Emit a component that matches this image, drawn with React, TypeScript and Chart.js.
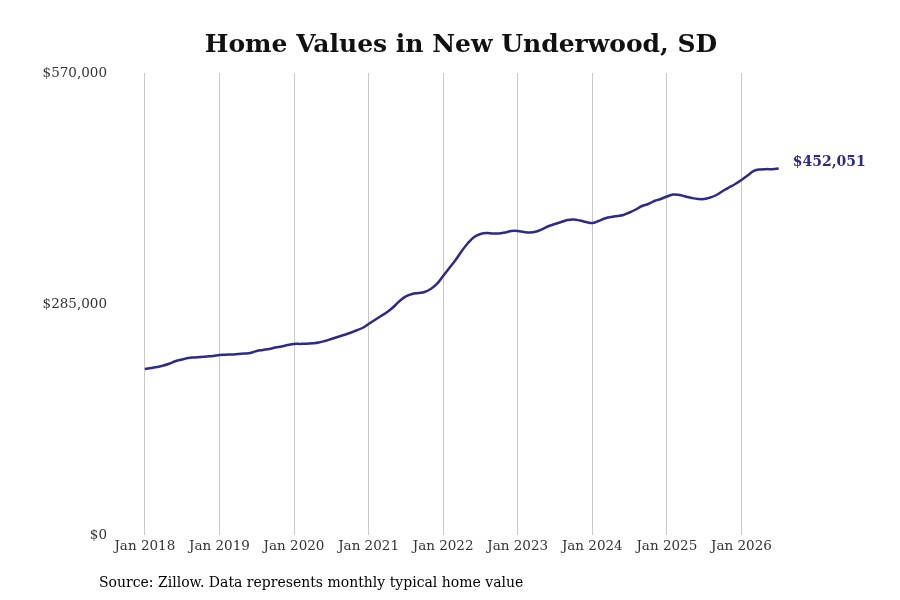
import React, { useEffect, useRef } from 'react';
import { Chart, registerables } from 'chart.js';

Chart.register(...registerables);

// monthly typical home value, Jan 2018 .. Jul 2026
const homeValues = [
  204800, 206000, 207300, 209100, 211600, 214700, 216500, 218400, 219000, 219600, 220200, 220900,
  222100, 222500, 222700, 223300, 223900, 224600, 227000, 228300, 229500, 231300, 232600, 234400,
  235700, 235800, 235900, 236500, 237500, 239400, 241800, 244300, 246800, 249200, 252300, 255400,
  260300, 265300, 270200, 275100, 281300, 288700, 294300, 297300, 298600, 299800, 303500, 309700,
  319600, 329400, 339300, 350400, 360300, 367700, 371400, 372600, 372000, 372100, 373200, 375100,
  375100, 373800, 373200, 374500, 377500, 381200, 383700, 386200, 388600, 389300, 388000, 386200,
  384900, 387400, 390500, 392300, 393600, 394800, 397900, 401600, 405900, 408400, 412100, 414600,
  417600, 420100, 419500, 417600, 415800, 414600, 414500, 416400, 419500, 424400, 428700, 433100,
  438000, 443600, 449100, 451000, 451400, 451300, 452051,
];

const yearLabels = [
  'Jan 2018', 'Jan 2019', 'Jan 2020', 'Jan 2021', 'Jan 2022',
  'Jan 2023', 'Jan 2024', 'Jan 2025', 'Jan 2026',
];

const yTicks = [0, 285000, 570000];

const title = 'Home Values in New Underwood, SD';
const source = 'Source: Zillow. Data represents monthly typical home value';

const lineColor = '#2e2a87';
const fontFamily = '"DejaVu Serif", serif';

const money = (v: number) => '$' + Math.round(v).toLocaleString('en-US');

const textPlugin = {
  id: 'pageText',
  afterDraw(chart: Chart) {
    const ctx = chart.ctx;
    ctx.save();
    ctx.fillStyle = '#111';
    ctx.font = `bold 25px ${fontFamily}`;
    ctx.textAlign = 'center';
    ctx.textBaseline = 'middle';
    ctx.fillText(title, 461, 45);

    ctx.fillStyle = '#000';
    ctx.font = `14px ${fontFamily}`;
    ctx.textAlign = 'left';
    ctx.fillText(source, 99, 583);

    // label on last point
    const meta = chart.getDatasetMeta(0);
    const last = meta.data[meta.data.length - 1];
    if (last) {
      ctx.fillStyle = lineColor;
      ctx.font = `bold 14px ${fontFamily}`;
      ctx.fillText(money(homeValues[homeValues.length - 1]), last.x + 14, last.y - 6);
    }
    ctx.restore();
  },
};

export default function App() {
  const chartRef = useRef<HTMLCanvasElement>(null);
  const chartInstance = useRef<Chart | null>(null);

  useEffect(() => {
    if (!chartRef.current) return;
    if (chartInstance.current) chartInstance.current.destroy();

    const ctx = chartRef.current.getContext('2d');
    if (!ctx) return;

    chartInstance.current = new Chart(ctx, {
      type: 'line',
      data: {
        datasets: [
          {
            label: 'Home value',
            data: homeValues.map((v, i) => ({ x: i, y: v })),
            borderColor: lineColor,
            borderWidth: 2.5,
            pointRadius: 0,
            tension: 0.4,
            fill: false,
          },
        ],
      },
      options: {
        animation: false,
        responsive: false,
        maintainAspectRatio: false,
        layout: { padding: { left: 0, right: 84, top: 73, bottom: 0 } },
        plugins: {
          legend: { display: false },
          tooltip: { enabled: false },
          title: { display: false },
        },
        scales: {
          x: {
            type: 'linear',
            min: -4,
            max: 108,
            afterBuildTicks: (scale: any) => {
              scale.ticks = yearLabels.map((_, i) => ({ value: i * 12 }));
            },
            afterFit: (scale: any) => {
              scale.height = 65;
            },
            ticks: {
              autoSkip: false,
              maxRotation: 0,
              padding: 3,
              color: '#333',
              font: { family: fontFamily, size: 13.5 },
              callback: (value: any) => yearLabels[Math.round(Number(value) / 12)] ?? '',
            },
            grid: {
              display: true,
              color: '#c8c8c8',
              lineWidth: 1,
              drawTicks: false,
            },
            border: { display: false },
          },
          y: {
            min: 0,
            max: 570000,
            afterBuildTicks: (scale: any) => {
              scale.ticks = yTicks.map((v) => ({ value: v }));
            },
            afterFit: (scale: any) => {
              scale.width = 120;
            },
            ticks: {
              padding: 13,
              color: '#333',
              font: { family: fontFamily, size: 13.5 },
              callback: (value: any) => money(Number(value)),
            },
            grid: { display: false, drawTicks: false },
            border: { display: false },
          },
        },
      },
      plugins: [textPlugin],
    });

    return () => {
      if (chartInstance.current) {
        chartInstance.current.destroy();
        chartInstance.current = null;
      }
    };
  }, []);

  return (
    <div style={{ position: 'fixed', left: 0, top: 0, width: 900, height: 600, background: '#fff' }}>
      <canvas ref={chartRef} width={900} height={600} style={{ width: 900, height: 600 }}></canvas>
    </div>
  );
}
